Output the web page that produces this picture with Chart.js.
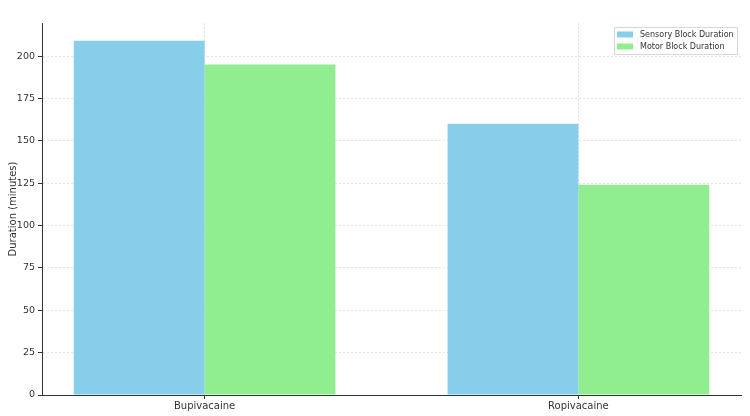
<!DOCTYPE html>
<html>
<head>
<meta charset="utf-8">
<script src="https://cdn.jsdelivr.net/npm/chart.js@4.4.1/dist/chart.umd.min.js"></script>
<style>
  html, body { margin: 0; padding: 0; background: #fff; }
  #wrap { width: 750px; height: 416px; position: relative; }
</style>
</head>
<body>
<div id="wrap"><canvas id="durationChart"></canvas></div>
<script>
// chart data
const drugs = ['Bupivacaine', 'Ropivacaine'];
const sensoryBlock = [209, 160];
const motorBlock = [195, 124];
const yTicks = [0, 25, 50, 75, 100, 125, 150, 175, 200];

const FONT = "'DejaVu Sans', sans-serif";
const TEXT = '#333333';

// legend drawn inside the plot, top right
const insideLegend = {
    id: 'insideLegend',
    afterDraw(chart) {
        const ctx = chart.ctx;
        const area = chart.chartArea;
        const sets = chart.data.datasets;
        ctx.save();
        ctx.font = '8px ' + FONT;
        let textW = 0;
        sets.forEach(ds => { textW = Math.max(textW, ctx.measureText(ds.label).width); });
        const w = Math.round(textW + 29);
        const h = 27;
        const x = Math.round(area.right - 4 - w);
        const y = Math.round(area.top + 4);
        ctx.fillStyle = 'rgba(255,255,255,0.8)';
        ctx.strokeStyle = '#d8d8d8';
        ctx.lineWidth = 1;
        ctx.beginPath();
        ctx.rect(x + 0.5, y + 0.5, w, h);
        ctx.fill();
        ctx.stroke();
        sets.forEach((ds, i) => {
            const cy = y + 7.5 + i * 12;
            ctx.fillStyle = ds.backgroundColor;
            ctx.fillRect(x + 3, cy - 3, 16, 6);
            ctx.fillStyle = TEXT;
            ctx.textBaseline = 'middle';
            ctx.textAlign = 'left';
            ctx.fillText(ds.label, x + 26, cy);
        });
        ctx.restore();
    }
};

function buildChart() {
    const ctx = document.getElementById('durationChart');
    return new Chart(ctx.getContext('2d'), {
        type: 'bar',
        data: {
            datasets: [{
                label: 'Sensory Block Duration',
                data: sensoryBlock.map((v, i) => ({ x: i, y: v })),
                backgroundColor: '#87CEEB',
                borderWidth: 0
            }, {
                label: 'Motor Block Duration',
                data: motorBlock.map((v, i) => ({ x: i, y: v })),
                backgroundColor: '#90EE90',
                borderWidth: 0
            }]
        },
        options: {
            responsive: true,
            maintainAspectRatio: false,
            animation: false,
            layout: { padding: { top: 23, right: 9, left: 0, bottom: 0 } },
            categoryPercentage: 0.7,
            barPercentage: 1.0,
            plugins: {
                legend: { display: false },
                tooltip: { enabled: false }
            },
            scales: {
                x: {
                    type: 'linear',
                    offset: false,
                    min: -0.435,
                    max: 1.435,
                    afterBuildTicks: scale => {
                        scale.ticks = drugs.map((d, i) => ({ value: i }));
                    },
                    afterFit: scale => { scale.height = 21; },
                    ticks: {
                        callback: v => drugs[v] || '',
                        font: { family: FONT, size: 10 },
                        color: TEXT,
                        padding: 1,
                        maxRotation: 0
                    },
                    grid: {
                        offset: false,
                        color: '#e3e3e3',
                        tickColor: '#333',
                        tickLength: 4,
                        tickBorderDash: []
                    },
                    border: { color: '#333', width: 1, dash: [2, 2] }
                },
                y: {
                    min: 0,
                    max: 219.5,
                    afterBuildTicks: scale => {
                        scale.ticks = yTicks.map(v => ({ value: v }));
                    },
                    afterFit: scale => { scale.width = 42; },
                    ticks: {
                        font: { family: FONT, size: 9.5 },
                        color: TEXT,
                        padding: 3
                    },
                    grid: {
                        color: '#e3e3e3',
                        tickColor: '#333',
                        tickLength: 4,
                        tickBorderDash: []
                    },
                    border: { color: '#333', width: 1, dash: [2, 2] },
                    title: {
                        display: true,
                        text: 'Duration (minutes)',
                        font: { family: FONT, size: 10 },
                        color: TEXT,
                        padding: { top: 7, bottom: 0 }
                    }
                }
            }
        },
        plugins: [insideLegend]
    });
}

document.addEventListener('DOMContentLoaded', function() {
    window.durationChart = buildChart();
});
</script>
</body>
</html>
